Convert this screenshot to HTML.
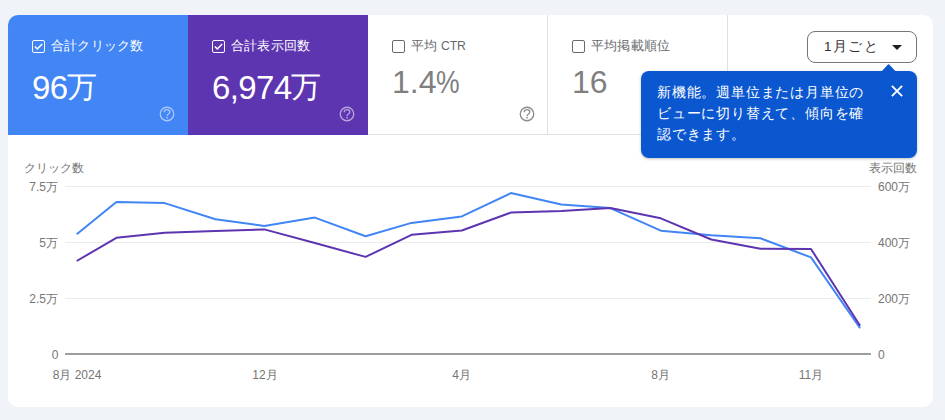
<!DOCTYPE html>
<html lang="ja">
<head>
<meta charset="utf-8">
<style>
html,body{margin:0;padding:0;}
body{width:945px;height:420px;background:#f0f4f9;position:relative;overflow:hidden;font-family:"Liberation Sans",sans-serif;}
.card{position:absolute;left:8px;top:15px;width:925px;height:392px;background:#fff;border-radius:10px;overflow:hidden;}
.tile{position:absolute;top:0;width:180px;height:120px;box-sizing:border-box;}
.t1{left:0;background:#4285f4;color:#fff;}
.t2{left:180px;background:#5e35b1;color:#fff;}
.t3{left:360px;border-right:1px solid #e0e0e0;border-bottom:1px solid #e0e0e0;color:#66696d;}
.t4{left:540px;border-right:1px solid #e0e0e0;border-bottom:1px solid #e0e0e0;color:#66696d;}
.cb{position:absolute;left:24px;top:25px;width:12.5px;height:12.5px;box-sizing:border-box;border:1.5px solid currentColor;border-radius:2px;}
.lbl{position:absolute;left:43px;top:23px;font-size:12.5px;letter-spacing:0.2px;line-height:16px;white-space:nowrap;}
.num{position:absolute;left:24px;font-size:32px;line-height:38px;white-space:nowrap;}
.t1 .num,.t2 .num{top:53.5px;font-size:33px;letter-spacing:-0.6px;}
.t3 .num,.t4 .num{top:48px;color:#7f7f7f;}
.man{font-size:30px;margin-left:-0.5px;position:relative;top:-1.5px;}
.help{position:absolute;left:150px;top:90px;width:18px;height:18px;}
.ylab{position:absolute;font-size:12px;line-height:14px;color:#757575;white-space:nowrap;}
.xlab{position:absolute;font-size:12px;line-height:14px;color:#757575;white-space:nowrap;transform:translateX(-50%);}
.dd{position:absolute;left:799px;top:16px;width:110px;height:32px;box-sizing:border-box;border:1px solid #747775;border-radius:8px;}
.ddt{position:absolute;left:16px;top:6.5px;font-size:13.5px;letter-spacing:1.4px;line-height:16px;color:#303134;white-space:nowrap;}
.tip{position:absolute;left:633px;top:56px;width:276px;height:86.5px;background:#0b57d0;border-radius:8px;color:#fff;box-shadow:0 1px 3px rgba(0,0,0,.25);}
.tipt{position:absolute;left:16px;top:11px;font-size:14px;letter-spacing:0.8px;line-height:21px;white-space:nowrap;}
</style>
</head>
<body>
<div class="card">
  <div class="tile t1">
    <div class="cb"></div>
    <svg style="position:absolute;left:26px;top:28px" width="9" height="7" viewBox="0 0 9 7"><path d="M0.8 3.5 L3.3 5.9 L8.2 0.9" fill="none" stroke="#fff" stroke-width="1.5"/></svg>
    <div class="lbl">合計クリック数</div>
    <div class="num">96<span class="man">万</span></div>
    <svg class="help" viewBox="0 0 18 18"><circle cx="9" cy="9" r="6.75" fill="none" stroke="rgba(255,255,255,0.55)" stroke-width="1.3"/><path d="M6.2 7.3 C6.2 5.6 7.4 4.6 9 4.6 C10.6 4.6 11.8 5.6 11.8 7.1 C11.8 8.9 9.1 9.1 9.1 10.9" fill="none" stroke="rgba(255,255,255,0.55)" stroke-width="1.3"/><circle cx="9.1" cy="12.7" r="0.85" fill="rgba(255,255,255,0.55)"/></svg>
  </div>
  <div class="tile t2">
    <div class="cb"></div>
    <svg style="position:absolute;left:26px;top:28px" width="9" height="7" viewBox="0 0 9 7"><path d="M0.8 3.5 L3.3 5.9 L8.2 0.9" fill="none" stroke="#fff" stroke-width="1.5"/></svg>
    <div class="lbl">合計表示回数</div>
    <div class="num">6,974<span class="man">万</span></div>
    <svg class="help" viewBox="0 0 18 18"><circle cx="9" cy="9" r="6.75" fill="none" stroke="rgba(255,255,255,0.55)" stroke-width="1.3"/><path d="M6.2 7.3 C6.2 5.6 7.4 4.6 9 4.6 C10.6 4.6 11.8 5.6 11.8 7.1 C11.8 8.9 9.1 9.1 9.1 10.9" fill="none" stroke="rgba(255,255,255,0.55)" stroke-width="1.3"/><circle cx="9.1" cy="12.7" r="0.85" fill="rgba(255,255,255,0.55)"/></svg>
  </div>
  <div class="tile t3">
    <div class="cb"></div>
    <div class="lbl">平均 <span style="font-size:12.2px;letter-spacing:-0.1px">CTR</span></div>
    <div class="num">1.4<span style="display:inline-block;transform:scaleX(0.83);transform-origin:0 0;margin-left:-0.5px">%</span></div>
    <svg class="help" viewBox="0 0 18 18"><circle cx="9" cy="9" r="6.75" fill="none" stroke="#8c8c8c" stroke-width="1.3"/><path d="M6.2 7.3 C6.2 5.6 7.4 4.6 9 4.6 C10.6 4.6 11.8 5.6 11.8 7.1 C11.8 8.9 9.1 9.1 9.1 10.9" fill="none" stroke="#8c8c8c" stroke-width="1.3"/><circle cx="9.1" cy="12.7" r="0.85" fill="#8c8c8c"/></svg>
  </div>
  <div class="tile t4">
    <div class="cb"></div>
    <div class="lbl">平均掲載順位</div>
    <div class="num">16</div>
  </div>

  <div class="dd"><div class="ddt">1月ごと</div>
    <svg style="position:absolute;left:84px;top:13px" width="10" height="5" viewBox="0 0 10 5"><path d="M0 0 L10 0 L5 5 Z" fill="#1f1f1f"/></svg>
  </div>

  <!-- chart -->
  <div class="ylab" style="left:16.3px;top:146px">クリック数</div>
  <div class="ylab" style="right:16px;top:146px">表示回数</div>

  <div class="ylab" style="right:875px;top:165px">7.5万</div>
  <div class="ylab" style="right:875px;top:221px">5万</div>
  <div class="ylab" style="right:875px;top:277px">2.5万</div>
  <div class="ylab" style="right:874.5px;top:332.5px">0</div>

  <div class="ylab" style="left:870px;top:165px">600万</div>
  <div class="ylab" style="left:870px;top:221px">400万</div>
  <div class="ylab" style="left:870px;top:277px">200万</div>
  <div class="ylab" style="left:870px;top:332.5px">0</div>

  <div class="xlab" style="left:69px;top:353px">8月 2024</div>
  <div class="xlab" style="left:257px;top:353px">12月</div>
  <div class="xlab" style="left:453.5px;top:353px">4月</div>
  <div class="xlab" style="left:652.5px;top:353px">8月</div>
  <div class="xlab" style="left:803px;top:353px">11月</div>

  <svg style="position:absolute;left:-8px;top:-15px" width="945" height="420" viewBox="0 0 945 420">
    <g stroke="#ebebeb" stroke-width="1">
      <line x1="65" y1="186.5" x2="871" y2="186.5"/>
      <line x1="65" y1="242.5" x2="871" y2="242.5"/>
      <line x1="65" y1="298.5" x2="871" y2="298.5"/>
    </g>
    <line x1="65" y1="354" x2="871" y2="354" stroke="#9e9e9e" stroke-width="2"/>
    <polyline fill="none" stroke="#4285f4" stroke-width="2" stroke-linejoin="round" points="76.7,234.3 116.4,202 164.7,203.1 215.5,219.3 264.3,226 314.9,217.6 365.6,236.2 411.5,222.9 461.8,216.4 510.9,193.1 561.3,204.5 610.3,208.1 660.8,230.7 711.3,235.3 760.5,238.3 811,257.4 860.1,328.2"/>
    <polyline fill="none" stroke="#5e35b1" stroke-width="2" stroke-linejoin="round" points="76.7,261 116.4,237.8 164.7,232.7 215.5,231 264.3,229.4 314.9,243 365.6,256.9 411.5,234.8 461.8,230.5 510.9,212.6 561.3,211 610.3,208.1 660.8,218.3 711.3,239.5 760.5,248.7 811,249 860.1,325.7"/>
  </svg>

  <div class="tip">
    <svg style="position:absolute;left:240px;top:-7px" width="15.2" height="8" viewBox="0 0 15.2 8"><path d="M0 8 L7 0.6 Q7.6 0 8.2 0.6 L15.2 8 Z" fill="#0b57d0"/></svg>
    <div class="tipt">新機能。週単位または月単位の<br>ビューに切り替えて、傾向を確<br>認できます。</div>
    <svg style="position:absolute;left:250px;top:14px" width="12" height="12" viewBox="0 0 12 12"><path d="M0.9 0.9 L11.1 11.1 M11.1 0.9 L0.9 11.1" stroke="#fff" stroke-width="1.9"/></svg>
  </div>
</div>
</body>
</html>
